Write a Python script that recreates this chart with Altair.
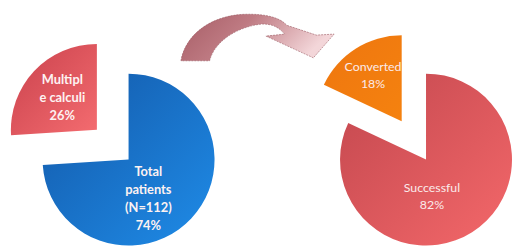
import altair as alt
import numpy as np
import pandas as pd

# ---------------- data ----------------
left_categories = ["Total patients (N=112)", "Multiple calculi"]
left_values = [74, 26]
left_text = ["Total\npatients\n(N=112)\n74%", "Multipl\ne calculi\n26%"]

right_categories = ["Successful", "Converted"]
right_values = [82, 18]
right_text = ["Successful\n82%", "Converted\n18%"]

# ---------------- layout ----------------
W, H = 504, 240
R = 87
pies = [
    dict(name="left", cats=left_categories, vals=left_values, text=left_text,
         center=(122, 152), explode=[0, 44],
         label_shift=[(20, 40), (-35, -32)], line_h=18),
    dict(name="right", cats=right_categories, vals=right_values, text=right_text,
         center=(423, 152), explode=[0, 46],
         label_shift=[(6, 37), (-29, -46)], line_h=17),
]

fills = {
    "Total patients (N=112)": ("#1358a8", "#1f8ce8"),
    "Multiple calculi": ("#c9414c", "#f46c70"),
    "Successful": ("#c2474e", "#f4686a"),
    "Converted": ("#ee760f", "#f5820f"),
}

rows = []
for p in pies:
    vals = np.array(p["vals"], dtype=float)
    ends = np.cumsum(vals) / vals.sum() * 2 * np.pi
    starts = np.concatenate([[0.0], ends[:-1]])
    for i, cat in enumerate(p["cats"]):
        mid = (starts[i] + ends[i]) / 2
        d = p["explode"][i]
        cx = p["center"][0] + d * np.sin(mid)
        cy = p["center"][1] - d * np.cos(mid)
        lx, ly = p["label_shift"][i]
        n_lines = p["text"][i].count("\n") + 1
        rows.append(dict(pie=p["name"], cat=cat, value=p["vals"][i], t0=starts[i], t1=ends[i],
                         cx=cx, cy=cy, lx=cx + lx,
                         ly=cy + ly - (n_lines - 1) * p["line_h"] / 2,
                         text=p["text"][i]))
df = pd.DataFrame(rows)

base = alt.Chart(df)

layers = []
for cat, (c0, c1) in fills.items():
    grad = alt.Gradient(gradient="linear",
                        stops=[alt.GradientStop(color=c0, offset=0), alt.GradientStop(color=c1, offset=1)],
                        x1=0, y1=0, x2=1, y2=1)
    layers.append(
        base.transform_filter(alt.datum.cat == cat)
        .mark_arc(radius=R, color=grad, strokeWidth=0)
        .encode(
            theta=alt.Theta("t0:Q", scale=None),
            theta2=alt.Theta2("t1:Q"),
            x=alt.X("cx:Q", scale=None, axis=None),
            y=alt.Y("cy:Q", scale=None, axis=None),
        )
    )

# curved arrow between the pies (decorative block arrow drawn as a custom symbol)
arrow_pts = [
    ("M", [(183, 60)]),
    ("C", [(187, 36), (210, 15), (246, 13)]),
    ("C", [(270, 12), (284, 17), (290, 24)]),
    ("L", [(320, 34)]),
    ("L", [(338, 33)]),
    ("L", [(317, 57)]),
    ("L", [(269, 35)]),
    ("L", [(288, 33)]),
    ("C", [(282, 26), (275, 22), (263, 23)]),
    ("C", [(240, 26), (217, 40), (212, 60)]),
]
acx, acy, ascale = 260, 35, 80.0
parts = []
for cmd, pts in arrow_pts:
    coords = " ".join(f"{(x - acx) / ascale:.4f},{(y - acy) / ascale:.4f}" for x, y in pts)
    parts.append(f"{cmd}{coords}")
arrow_path = " ".join(parts) + " Z"

arrow_grad = alt.Gradient(gradient="linear",
                          stops=[alt.GradientStop(color="#a65c65", offset=0),
                                 alt.GradientStop(color="#bf7b83", offset=0.45),
                                 alt.GradientStop(color="#f3d6d9", offset=1)],
                          x1=0, y1=0, x2=1, y2=0.3)
arrow = alt.Chart(pd.DataFrame({"k": [1]})).mark_point(
    shape=arrow_path, filled=True, fill=arrow_grad, opacity=1,
    size=(2 * ascale) ** 2, stroke="#9a5a62", strokeWidth=0.6, strokeDash=[2, 1]
).encode(x=alt.value(acx - 8), y=alt.value(acy - 8))

text_left = base.transform_filter(alt.datum.pie == "left").mark_text(
    lineBreak="\n", align="center", baseline="middle", font="Lato", fontSize=13,
    fontWeight="bold", lineHeight=18, color="#fdf2f2"
).encode(x=alt.X("lx:Q", scale=None, axis=None), y=alt.Y("ly:Q", scale=None, axis=None), text="text:N")

text_right = base.transform_filter(alt.datum.pie == "right").mark_text(
    lineBreak="\n", align="center", baseline="middle", font="Lato", fontSize=12.5,
    fontWeight="normal", lineHeight=17, color="#fbeaea"
).encode(x=alt.X("lx:Q", scale=None, axis=None), y=alt.Y("ly:Q", scale=None, axis=None), text="text:N")

chart = alt.layer(*layers, arrow, text_left, text_right).properties(
    width=W, height=H, padding=0, background="white"
).configure_view(stroke=None)

chart.save("out.html", embed_options={"renderer": "svg", "actions": False})
